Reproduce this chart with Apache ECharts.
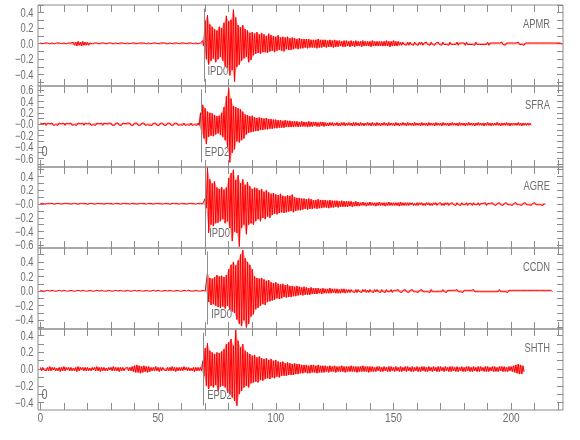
<!DOCTYPE html>
<html><head><meta charset="utf-8">
<script src="https://cdn.jsdelivr.net/npm/echarts@6/dist/echarts.min.js"></script>
<style>html,body{margin:0;padding:0;background:#fff}#c{width:580px;height:440px}</style>
</head><body><div id="c"></div>
<script>
// ---- data ----
const stations = ['APMR', 'SFRA', 'AGRE', 'CCDN', 'SHTH'];
const pickNames = ['IPD0', 'EPD2', 'IPD0', 'IPD0', 'EPD2'];
const pickTimes = [69.3, 68.1, 70.0, 70.9, 69.2];
const panelNotes = ['', '0', '', '', '0'];
const yMins = [-0.546, -0.75, -0.64, -0.52, -0.49];
const yMaxs = [0.50, 0.67, 0.54, 0.59, 0.48];
const yTickValues = [
  [0.4, 0.2, 0, -0.2, -0.4],
  [0.6, 0.4, 0.2, 0, -0.2, -0.4, -0.6],
  [0.4, 0.2, 0, -0.2, -0.4, -0.6],
  [0.4, 0.2, 0, -0.2, -0.4],
  [0.4, 0.2, 0, -0.2, -0.4]
];
const yTickLabels = [
  ['0.4', '0.2', '0.0', '\u22120.2', '\u22120.4'],
  ['0.6', '0.4', '0.2', '\u22120.0', '\u22120.2', '\u22120.4', '\u22120.6'],
  ['0.4', '0.2', '\u22120.0', '\u22120.2', '\u22120.4', '\u22120.6'],
  ['0.4', '0.2', '0.0', '\u22120.2', '\u22120.4'],
  ['0.4', '0.2', '0.0', '\u22120.2', '\u22120.4']
];
const xTickLabels = [0, 50, 100, 150, 200];
const xMin = -1, xMax = 222;

// per-second peak (positive) and trough (negative) amplitudes, in hundredths, starting at t = 0 s
const apmrPeak = [1,0,1,1,0,1,0,1,1,0,1,0,1,1, 2,2,3,2,3,2,2,
 1,0,1,1,0,1,1,0, 1,1,0,1,0,1,1,0, 1,0,1,1,0,1,1,1, 0,1,0,1,1,0,1,1, 1,0,1,0,1,1,0,1, 1,0,1,1,0,1,0,1,
 4,
 30,37,25,22,19,17,22,20,27,36, 29,31,44,34,24,21,24,19,17,14, 15,13,15,12,14,12,10,13,11,10,
 9,11,8,9,8,9,7,8,7,6, 7,6,6,6,6,5,5,5,6,5, 5,5,4,5,4,5,
 4,4,3,4,4,3,4,3,4,3, 3,4,3,3,3,4,3,3,3,3,
 3,4,3,3,4,3,3,
 2,2,1,2,2,1,2,1,2,2, 1,2,1,2,1,1,2,1,2,1, 1,2,1,1,2,1,1,1,2,1, 1,1,2,1,1,1,1,2,1,1, 1,1,1,2,1,1,1,1,1,1, 2,1,1,1,1,1,1,1,1,1, 1,1,1,1,1,1,1,1,1];
const apmrTrough = [-1,0,-1,0,-1,-1,0,-1,0,-1,-1,0,-1,-1, -2,-3,-2,-3,-2,-2,-2,
 -1,-1,0,-1,-1,0,-1,-1, 0,-1,-1,0,-1,-1,0,-1, -1,0,-1,-1,0,-1,-1,0, -1,-1,0,-1,0,-1,-1,0, -1,-1,0,-1,-1,0,-1,-1, 0,-1,-1,0,-1,-1,0,-1,
 -3,
 -20,-27,-22,-19,-24,-20,-17,-22,-29,-31, -41,-34,-49,-30,-27,-22,-19,-17,-24,-21, -15,-13,-12,-13,-11,-11,-12,-10,-9,-11,
 -9,-8,-9,-10,-7,-8,-8,-7,-6,-7, -6,-6,-5,-6,-5,-5,-5,-6,-5,-5, -4,-5,-4,-4,-5,-4,
 -4,-3,-4,-4,-3,-4,-3,-4,-3,-3, -4,-3,-3,-3,-4,-3,-3,-3,-3,-3,
 -3,-3,-4,-3,-3,-3,-2,
 -2,-1,-2,-2,-1,-2,-1,-2,-1,-2, -1,-1,-2,-1,-2,-1,-1,-2,-1,-1, -2,-1,-1,-1,-2,-1,-1,-2,-1,-1, -1,-2,-1,-1,-1,-1,-1,-2,-1,-1, -1,-1,-1,-1,-2,-1,-1,-1,-1,-1, -1,-1,-2,-1,-1,-1,-1,-1,-1,-1, -1,-1,-1,-1,-1,-1,-1,-1,-1];

const sfraPeak = [2,1,2,2,1,2,1,2,2,1, 2,2,1,2,1,2,2,1,2,2, 1,2,1,2,2,1,2,2,1,2, 2,1,2,2,1,2,1,2,2,1, 2,2,1,2,2,1,2,1,2,2, 1,2,2,1,2,2,1,2,2,1, 2,2,1,2,2,1,2,2,
 20,34,28,22,20,19,16,14,15,20, 30,49,63,45,32,30,28,26,22,17, 16,14,15,12,11,12,11,10,11,9, 9,8,8,7,7,6,7,6,6,5,
 5,5,4,5,4,4,5,4,4,4,3,4,4,
 3,2,3,3,2,3,2,3,3,2, 3,2,3,3,2,3,2,2,3,2, 3,2,3,2,2,3,2,3,2,2, 3,2,2,3,2,3,2,2,3,2, 2,3,2,2,3,2,2,3,2,2, 3,2,2,2,3,2,2,3,2,2, 2,3,2,2,2,3,2,2,2,3, 2,2,2,3,2,2,2,3,2,2, 2,2,3,2,2,2,2,2];
const sfraTrough = [-1,-2,-2,-1,-2,-2,-1,-2,-1,-2, -2,-1,-2,-2,-1,-2,-1,-2,-2,-1, -2,-2,-1,-2,-1,-2,-2,-1,-2,-1, -2,-2,-1,-2,-2,-1,-2,-1,-2,-2, -1,-2,-2,-1,-2,-1,-2,-2,-1,-2, -2,-1,-2,-2,-1,-2,-2,-1,-2,-1, -2,-2,-1,-2,-2,-1,-2,-2,
 -15,-25,-35,-22,-20,-21,-18,-16,-19,-22, -28,-40,-67,-50,-44,-30,-32,-28,-25,-18, -15,-14,-13,-12,-12,-10,-10,-9,-9,-8, -8,-7,-7,-6,-6,-6,-5,-5,-5,-5,
 -4,-5,-4,-4,-4,-5,-4,-4,-3,-4,-4,-3,-4,
 -3,-3,-2,-3,-2,-3,-3,-2,-3,-2, -2,-3,-3,-2,-3,-2,-3,-2,-2,-3, -2,-3,-2,-3,-2,-2,-3,-2,-2,-3, -2,-3,-2,-2,-3,-2,-2,-3,-2,-2, -3,-2,-2,-3,-2,-2,-3,-2,-2,-3, -2,-2,-3,-2,-2,-2,-3,-2,-2,-3, -2,-2,-2,-3,-2,-2,-2,-3,-2,-2, -3,-2,-2,-2,-3,-2,-2,-2,-3,-2, -2,-2,-2,-3,-2,-2,-2,-2];

const agrePeak = [1,1,0,1,1,1,0,1,1,0, 1,1,1,0,1,1,0,1,1,1, 0,1,1,0,1,1,1,0,1,1, 1,0,1,1,0,1,1,1,0,1, 1,0,1,1,1,0,1,1,0,1, 1,1,0,1,1,0,1,1,1,0, 1,1,0,1,1,1,0,1,1,1,
 8,53,36,30,33,24,22,25,21,24, 38,45,50,35,42,30,36,28,32,26, 22,24,23,20,22,18,20,17,15,16, 14,13,15,12,11,13,12,14,10,9,
 9,8,8,7,8,7,6,6,7,6,6,
 6,5,6,5,5,5,4,5,4,4, 4,4,3,4,3,
 2,3,2,2,3,2,2,2,3,2, 2,2,3,2,2,2,2,3,2,2, 2,2,2,1,2,2,2,1,2,2, 1,2,2,1,2,1,2,2,1,2, 1,2,1,2,1,2,1,1,2,1, 2,1,1,2,1,1,2,1,1,2, 1,1,2,1,1,1,2,1,1,1, 2,1,1,1,2,1,1,1,1];
const agreTrough = [-1,0,-1,-1,0,-1,-1,0,-1,-1, 0,-1,-1,-1,0,-1,-1,0,-1,-1, -1,0,-1,-1,0,-1,-1,-1,0,-1, -1,0,-1,-1,-1,0,-1,-1,0,-1, -1,-1,0,-1,-1,0,-1,-1,-1,0, -1,-1,0,-1,-1,-1,0,-1,-1,0, -1,-1,-1,0,-1,-1,0,-1,-1,-1,
 -6,-42,-30,-32,-28,-27,-25,-22,-28,-25, -35,-54,-40,-42,-62,-35,-30,-44,-30,-28, -30,-25,-22,-25,-20,-22,-18,-20,-16,-14, -15,-13,-12,-13,-12,-11,-10,-12,-10,-9,
 -9,-8,-7,-8,-7,-7,-6,-7,-6,-6,-5,
 -5,-6,-5,-5,-4,-5,-4,-4,-4,-4, -3,-4,-3,-3,-3,
 -2,-2,-3,-2,-2,-2,-3,-2,-2,-2, -3,-2,-2,-2,-2,-2,-3,-2,-2,-2, -2,-1,-2,-2,-2,-1,-2,-2,-1,-2, -2,-1,-2,-1,-2,-2,-1,-2,-1,-1, -2,-1,-2,-1,-1,-2,-1,-2,-1,-1, -2,-1,-1,-2,-1,-1,-1,-2,-1,-1, -2,-1,-1,-1,-2,-1,-1,-1,-2,-1, -1,-1,-2,-1,-1,-1,-1,-2,-1];

const ccdnPeak = [1,0,0,1,0,1,0,0,1,0, 1,0,0,1,0,0,1,0,1,0, 0,1,0,0,1,0,1,0,0,1, 0,0,1,0,1,0,0,1,0,0, 1,0,1,0,0,1,0,0,1,0, 1,0,0,1,0,1,0,0,1,0, 0,1,0,1,0,0,1,0,0,1, 0,
 25,18,17,19,22,20,21,19,22,30, 36,40,35,42,50,56,45,40,36,30, 20,18,17,18,16,14,15,12,11,12, 10,9,10,8,9,7,7,6,7,6, 5,6,5,4,5,4,4,4,3,4, 3,3,4,3,3,3,2,3,3,2,
 2,2,1,2,2,1,2,2,1,2, 1,2,2,1,2,1,2,1,2,1, 1,2,1,1,2,1,1,2,1,1, 1,2,1,1,1,2,1,1,1,1, 2,1,1,1,1,1,2,1,1,1, 1,1,1,2,1,1,1,1,1,1, 1,1,1,1,2,1,1,1,1,1, 1,1,1,1,1,1,1,1,1,1, 1,1,1,1,1,1,1];
const ccdnTrough = [0,-1,0,0,-1,0,-1,0,0,-1, 0,0,-1,0,-1,0,0,-1,0,0, -1,0,-1,0,0,-1,0,0,-1,0, -1,0,0,-1,0,0,-1,0,-1,0, 0,-1,0,0,-1,0,-1,0,0,-1, 0,0,-1,0,-1,0,0,-1,0,0, -1,0,0,-1,0,-1,0,0,-1,0, -1,
 -15,-19,-18,-20,-22,-23,-21,-24,-20,-25, -28,-30,-39,-45,-48,-40,-50,-45,-35,-32, -25,-23,-20,-18,-19,-15,-14,-13,-12,-10, -11,-10,-8,-9,-8,-8,-7,-7,-6,-5, -6,-5,-5,-5,-4,-4,-4,-3,-4,-3, -3,-3,-3,-2,-3,-3,-3,-2,-3,-2,
 -2,-1,-2,-2,-1,-2,-1,-2,-2,-1, -2,-1,-1,-2,-1,-2,-1,-1,-2,-1, -1,-1,-2,-1,-1,-2,-1,-1,-1,-2, -1,-1,-1,-1,-2,-1,-1,-1,-1,-1, -1,-2,-1,-1,-1,-1,-1,-1,-2,-1, -1,-1,-1,-1,-1,-1,-1,-1,-1,-1, -1,-1,-1,-1,-1,-1,-1,-2,-1,-1, -1,-1,-1,-1,-1,-1,-1,-1,-1,-1, -1,-1,-1,-1,-1,-1,-1];

const shthPeak = [2,2,1,2,3,2,2,1,2,2, 3,2,2,2,1,2,3,2,2,2, 2,1,2,2,3,2,2,2,1,2, 2,3,2,2,2,2,1,2,2,
 3,4,5,4,3,4,3,3,
 2,2,3,2,2,2,1,2,2,3, 2,2,2,2,3,2,2,1,2,2, 2,2,
 10,25,31,22,20,18,20,19,21,24, 30,32,36,28,47,34,26,30,22,20, 18,16,17,14,15,13,12,13,11,12, 10,11,9,8,9,7,8,7,6,7,6,6, 5,5,5,4,5,5,4,5,4,4,
 4,3,4,3,4,3,3,4,3,3, 3,4,3,3,3,3,4,3,3,3,
 3,2,3,3,2,3,2,3,3,2, 3,2,3,2,3,3,2,3,2,3, 2,3,3,2,3,2,3,2,3,3, 2,3,2,3,3,2,3,2,3,2, 3,3,2,3,2,3,3,2,3,3, 2,3,3,2,3,3,3,2,3,3,
 4,5,6,5,4];
const shthTrough = [-2,-1,-2,-2,-2,-1,-2,-2,-3,-2, -2,-1,-2,-2,-2,-3,-2,-1,-2,-2, -2,-2,-1,-2,-2,-3,-2,-2,-2,-1, -2,-2,-2,-3,-2,-2,-1,-2,-2,
 -3,-4,-4,-5,-4,-3,-4,-3,
 -2,-2,-2,-3,-2,-1,-2,-2,-2,-2, -3,-2,-2,-2,-1,-2,-2,-2,-3,-2, -2,-2,
 -8,-20,-24,-20,-22,-19,-26,-21,-20,-22, -28,-30,-34,-38,-44,-30,-26,-22,-20,-22, -17,-16,-15,-16,-13,-14,-12,-11,-12,-10, -11,-9,-10,-8,-8,-8,-7,-7,-7,-6,-6,-5, -5,-4,-5,-5,-4,-4,-5,-4,-4,-4,
 -3,-4,-3,-3,-4,-3,-3,-3,-4,-3, -3,-3,-3,-4,-3,-3,-3,-3,-4,-3,
 -3,-3,-2,-3,-3,-2,-3,-3,-2,-3, -2,-3,-3,-2,-3,-2,-3,-3,-2,-3, -3,-2,-3,-3,-2,-3,-2,-3,-3,-2, -3,-2,-3,-3,-2,-3,-3,-2,-3,-3, -2,-3,-3,-2,-3,-3,-2,-3,-3,-3, -2,-3,-3,-3,-2,-3,-3,-3,-2,-3,
 -4,-5,-6,-6,-3];

const peaks = [apmrPeak, sfraPeak, agrePeak, ccdnPeak, shthPeak];
const troughs = [apmrTrough, sfraTrough, agreTrough, ccdnTrough, shthTrough];

// ---- layout / style ----
const FONT = '"Liberation Sans", "DejaVu Sans", sans-serif';
const SX = 0.78;
const AX = '#8c8c8c', TXT = '#6e6e6e';
const L = 38, R = 17, TOP0 = 5, PH = 81;

function peakData(up) { return up.map((v, i) => [i, v / 100]); }
function troughData(dn) { return dn.map((v, i) => [i + 0.5, v / 100]); }
function traceData(up, dn) {
  const d = [];
  for (let i = 0; i < up.length; i++) {
    d.push([i, up[i] / 100]);
    d.push([i + 0.5, dn[i] / 100]);
  }
  return d;
}
function yMinorTicks(lo, hi) {
  const v = [];
  for (let k = Math.ceil(lo * 10 - 1e-9); k <= Math.floor(hi * 10 + 1e-9); k++) v.push(k / 10);
  return v;
}
const xMinor = [];
for (let v = 0; v <= 220; v += 10) xMinor.push(v);

const grid = [], xAxis = [], yAxis = [], series = [];
for (let i = 0; i < 5; i++) {
  grid.push({ left: L, right: R, top: TOP0 + PH * i, height: PH, show: true, borderColor: AX, borderWidth: 1, backgroundColor: 'transparent' });
  ['bottom', 'top'].forEach(pos => xAxis.push({
    type: 'value', gridIndex: i, position: pos, min: xMin, max: xMax,
    axisLine: { show: false, onZero: false }, splitLine: { show: false },
    axisTick: { show: true, inside: true, length: 7, customValues: xMinor, lineStyle: { color: AX } },
    axisLabel: { show: false }
  }));
  const ticks = yMinorTicks(yMins[i], yMaxs[i]);
  ['left', 'right'].forEach(pos => yAxis.push({
    type: 'value', gridIndex: i, position: pos, min: yMins[i], max: yMaxs[i],
    axisLine: { show: false, onZero: false }, splitLine: { show: false },
    axisTick: { show: true, inside: true, length: 6, customValues: ticks, lineStyle: { color: AX } },
    axisLabel: { show: false }
  }));
  const ax = { xAxisIndex: 2 * i, yAxisIndex: 2 * i, showSymbol: false, symbol: 'none', silent: true, clip: true };
  series.push(Object.assign({ type: 'line', data: peakData(peaks[i]), lineStyle: { opacity: 0 },
    areaStyle: { color: '#ff2020', opacity: 0.42 }, z: 2 }, ax));
  series.push(Object.assign({ type: 'line', data: troughData(troughs[i]), lineStyle: { opacity: 0 },
    areaStyle: { color: '#ff2020', opacity: 0.42 }, z: 2 }, ax));
  series.push(Object.assign({ type: 'line', data: traceData(peaks[i], troughs[i]),
    lineStyle: { color: '#ff0000', width: 1 }, z: 3 }, ax));
}

const chart = echarts.init(document.getElementById('c'), null, { renderer: 'canvas' });
chart.setOption({ animation: false, backgroundColor: '#fff', grid, xAxis, yAxis, series });

function txt(x, y, s, align, size) {
  return { type: 'text', x: x, y: y, scaleX: SX, z: 10, silent: true,
    style: { text: s, fill: TXT, font: (size || 12) + 'px ' + FONT, textVerticalAlign: 'middle', textAlign: align } };
}
const graphic = [];
for (let i = 0; i < 5; i++) {
  const top = TOP0 + PH * i, bot = top + PH;
  const xi = 2 * i, yi = 2 * i;
  yTickValues[i].forEach((v, k) => {
    const p = chart.convertToPixel({ xAxisIndex: xi, yAxisIndex: yi }, [0, v]);
    graphic.push(txt(L - 4.5, p[1] + 0.8, yTickLabels[i][k], 'right'));
  });
  const px = chart.convertToPixel({ xAxisIndex: xi, yAxisIndex: yi }, [pickTimes[i], 0]);
  const lx = Math.round(px[0]) + 0.5;
  graphic.push({ type: 'line', shape: { x1: lx, y1: top + 3.5, x2: lx, y2: bot - 4.5 },
    style: { stroke: AX, lineWidth: 1 }, z: 10, silent: true });
  graphic.push(txt(px[0] + 4, bot - 14.5, pickNames[i], 'left'));
  graphic.push(txt(580 - R - 13, top + 20, stations[i], 'right'));
  if (panelNotes[i]) graphic.push(txt(L + 6.5, bot - 15, panelNotes[i], 'center', 14));
}
xTickLabels.forEach(v => {
  const p = chart.convertToPixel({ xAxisIndex: 8, yAxisIndex: 8 }, [v, 0]);
  graphic.push(txt(p[0], TOP0 + PH * 5 + 8.5, String(v), 'center', 13));
});
chart.setOption({ graphic });
</script>
</body></html>
